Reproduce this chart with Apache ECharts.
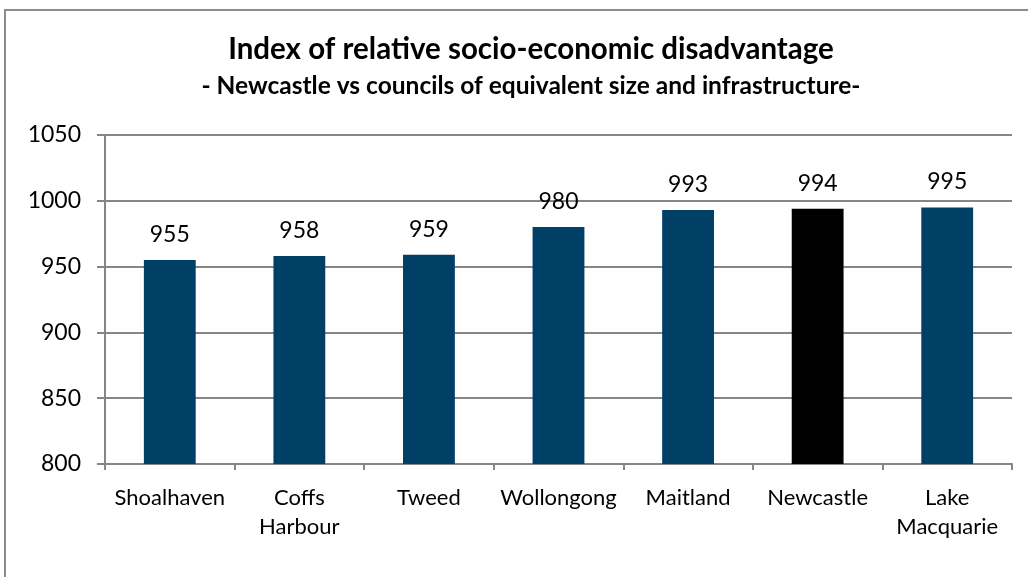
<!DOCTYPE html>
<html><head><meta charset="utf-8">
<script src="https://cdn.jsdelivr.net/npm/echarts@6/dist/echarts.min.js"></script>
<style>
html,body{margin:0;padding:0;background:#fff;overflow:hidden;}
#frame{position:absolute;left:4px;top:9px;width:1100px;height:700px;border:2px solid #8c8c8c;box-sizing:border-box;}
#chart{position:absolute;left:0;top:0;width:1028px;height:577px;}
</style></head>
<body>
<div id="frame"></div>
<div id="chart"></div>
<script>
const categories = ['Shoalhaven', 'Coffs\nHarbour', 'Tweed', 'Wollongong', 'Maitland', 'Newcastle', 'Lake\nMacquarie'];
const values = [955, 958, 959, 980, 993, 994, 995];
const highlight = 'Newcastle';
const yTicks = { min: 800, max: 1050, interval: 50 };
const titleText = 'Index of relative socio-economic disadvantage';
const subtitleText = '- Newcastle vs councils of equivalent size and infrastructure-';

const chart = echarts.init(document.getElementById('chart'));
const font = 'Lato, "Open Sans", sans-serif';
chart.setOption({
  animation: false,
  textStyle: { fontFamily: font },
  title: {
    text: titleText,
    subtext: subtitleText,
    left: 526,
    textAlign: 'center',
    top: 29,
    itemGap: 10,
    textStyle: { fontFamily: font, fontSize: 29.5, fontWeight: 'bold', color: '#000' },
    subtextStyle: { fontFamily: font, fontSize: 24.5, fontWeight: 'bold', color: '#000' }
  },
  grid: { left: 105, right: 16, top: 135, bottom: 113 },
  xAxis: {
    type: 'category',
    data: categories,
    axisLine: { lineStyle: { color: '#868686', width: 2 } },
    axisTick: { show: true, length: 6, alignWithLabel: false, lineStyle: { color: '#868686', width: 2 } },
    axisLabel: { color: '#000', fontSize: 22, margin: 19, lineHeight: 29, fontFamily: font, interval: 0 }
  },
  yAxis: {
    type: 'value',
    min: yTicks.min, max: yTicks.max, interval: yTicks.interval,
    axisLine: { show: true, lineStyle: { color: '#868686', width: 2 } },
    axisTick: { show: true, inside: false, length: 8, lineStyle: { color: '#868686', width: 2 } },
    splitLine: { show: true, lineStyle: { color: '#868686', width: 2 } },
    axisLabel: { color: '#000', fontSize: 23, margin: 24, fontFamily: font, formatter: v => String(v) }
  },
  series: [{
    type: 'bar',
    barWidth: '40%',
    data: values.map((v, i) => ({
      value: v,
      itemStyle: { color: categories[i] === highlight ? '#000000' : '#003F66' }
    })),
    label: { show: true, position: 'top', distance: 14, color: '#000', fontSize: 23, fontFamily: font }
  }]
});
</script>
</body></html>
